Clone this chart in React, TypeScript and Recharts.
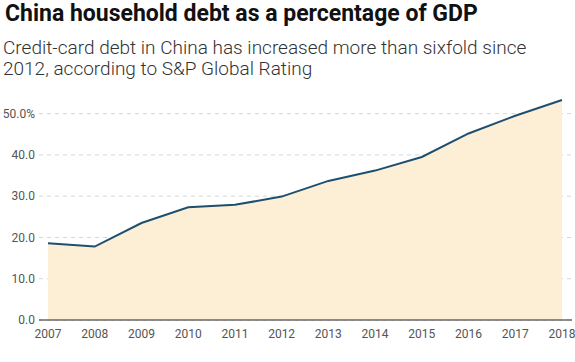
import React from "react";
import { AreaChart, Area, XAxis, YAxis, CartesianGrid } from "recharts";

const years = ["2007", "2008", "2009", "2010", "2011", "2012", "2013", "2014", "2015", "2016", "2017", "2018"];
const debtPct = [18.6, 17.8, 23.5, 27.3, 27.9, 29.9, 33.7, 36.2, 39.5, 45.2, 49.5, 53.3];
const yTicks = [0, 10, 20, 30, 40, 50];

const data = years.map((year, i) => ({ year, value: debtPct[i] }));

const fmtY = (v: number) => (v === 50 ? `${v.toFixed(1)}%` : v.toFixed(1));

export default function App() {
  return (
    <div style={{ position: "absolute", left: 0, top: 0, width: 575, height: 362, background: "#fff", fontFamily: "Roboto, sans-serif" }}>
      <div style={{ position: "absolute", left: 5, top: 0, fontSize: 23, lineHeight: "27px", fontWeight: 700, color: "#111", whiteSpace: "nowrap" }}>
        China household debt as a percentage of GDP
      </div>
      <div style={{ position: "absolute", left: 3, top: 37, width: 545, fontSize: 19, fontWeight: 300, color: "#333", lineHeight: "21px" }}>
        Credit-card debt in China has increased more than sixfold since 2012, according to S&amp;P Global Rating
      </div>
      <div style={{ position: "absolute", left: 0, top: 0 }}>
        <AreaChart width={575} height={362} data={data} margin={{ top: 93, right: 3, bottom: 12, left: 0 }}>
          <CartesianGrid vertical={false} horizontalValues={yTicks} stroke="#d6d6d6" strokeDasharray="4 4" />
          <XAxis
            dataKey="year"
            padding={{ left: 9, right: 10 }}
            tickLine={false}
            axisLine={{ stroke: "#222", strokeWidth: 1 }}
            tick={{ fill: "#555", fontSize: 12 }}
            tickSize={4}
            tickMargin={5}
            height={30}
            interval={0}
          />
          <YAxis
            domain={[0, 55]}
            ticks={yTicks}
            tickFormatter={fmtY}
            axisLine={false}
            tickLine={false}
            tick={{ fill: "#555", fontSize: 12 }}
            tickSize={0}
            tickMargin={4}
            width={39}
          />
          <Area
            type="linear"
            dataKey="value"
            stroke="#1f4f6e"
            strokeWidth={2}
            fill="#fcefd6"
            fillOpacity={1}
            isAnimationActive={false}
            dot={false}
            activeDot={false}
          />
        </AreaChart>
      </div>
    </div>
  );
}
